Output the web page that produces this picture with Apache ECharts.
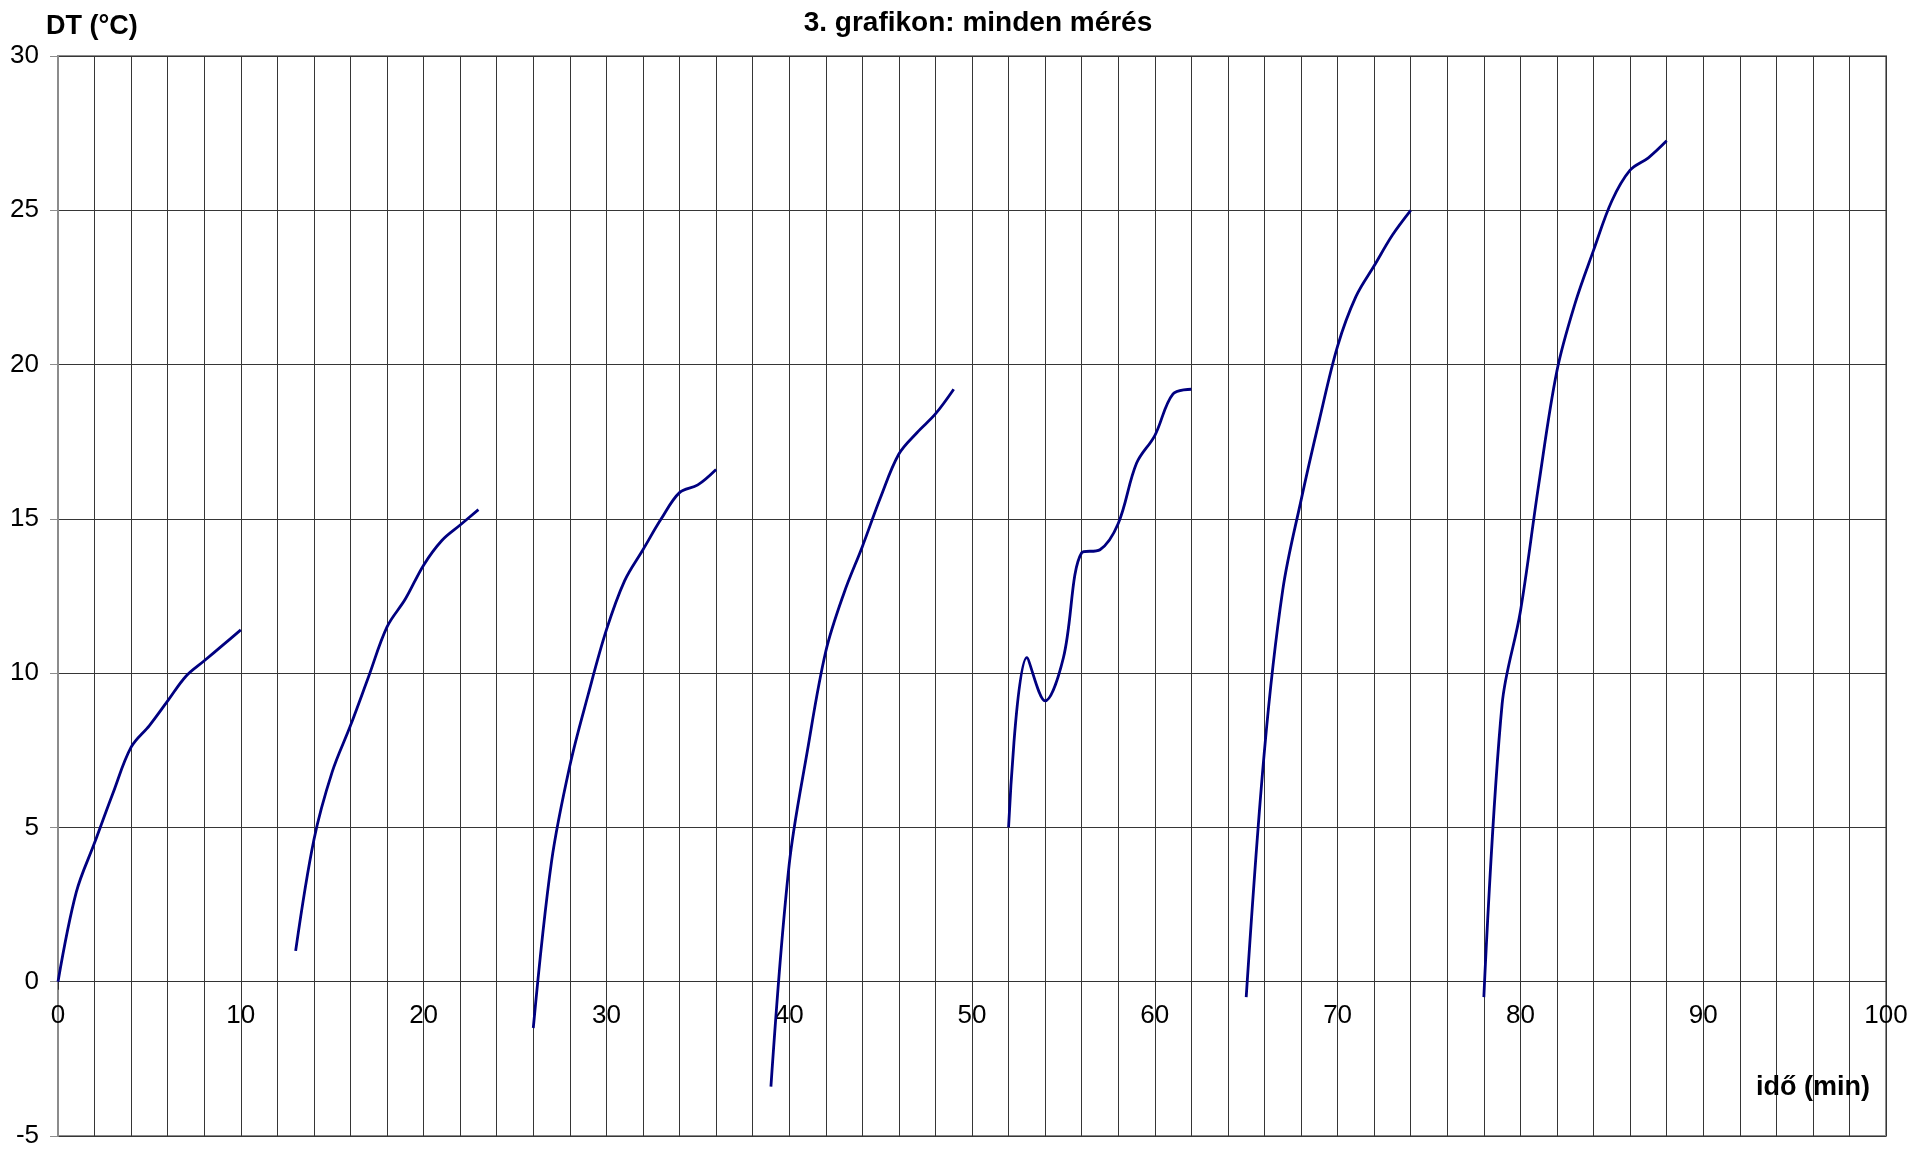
<!DOCTYPE html>
<html>
<head>
<meta charset="utf-8">
<title>3. grafikon: minden mérés</title>
<script src="https://cdn.jsdelivr.net/npm/echarts@6/dist/echarts.min.js"></script>
<style>
  html, body { margin: 0; padding: 0; background: #fff; }
  #chart { width: 1932px; height: 1150px; }
</style>
</head>
<body>
<div id="chart"></div>
<script>
// Measurement runs: time (min) and temperature rise DT (°C)
const run1Time = [0, 1, 2, 3, 4, 5, 6, 7, 8, 9, 10];
const run1DT   = [0, 2.9, 4.5, 6.1, 7.6, 8.3, 9.1, 9.9, 10.4, 10.9, 11.4];

const run2Time = [13, 14, 15, 16, 17, 18, 19, 20, 21, 22, 23];
const run2DT   = [1.0, 4.6, 6.8, 8.3, 9.9, 11.5, 12.4, 13.5, 14.3, 14.8, 15.3];

const run3Time = [26, 27, 28, 29, 30, 31, 32, 33, 34, 35, 36];
const run3DT   = [-1.5, 3.9, 7.0, 9.3, 11.4, 13.0, 14.0, 15.0, 15.85, 16.1, 16.6];

const run4Time = [39, 40, 41, 42, 43, 44, 45, 46, 47, 48, 49];
const run4DT   = [-3.4, 3.8, 7.5, 10.7, 12.6, 14.1, 15.7, 17.1, 17.8, 18.4, 19.2];

const run5Time = [52, 53, 54, 55, 56, 57, 58, 59, 60, 61, 62];
const run5DT   = [5.0, 10.5, 9.1, 10.5, 13.9, 14.0, 14.85, 16.8, 17.7, 19.05, 19.2];

const run6Time = [65, 66, 67, 68, 69, 70, 71, 72, 73, 74];
const run6DT   = [-0.5, 7.5, 12.7, 15.6, 18.2, 20.6, 22.2, 23.2, 24.2, 25.0];

const run7Time = [78, 79, 80, 81, 82, 83, 84, 85, 86, 87, 88];
const run7DT   = [-0.5, 9.0, 12.0, 16.1, 19.8, 22.0, 23.7, 25.3, 26.3, 26.7, 27.25];

// Axis ranges and tick steps
const xMin = 0, xMax = 100, xStep = 10;
const yMin = -5, yMax = 30, yStep = 5;

const chartTitle = '3. grafikon: minden mérés';
const yName = 'DT (°C)';
const xName = 'idő (min)';

const runs = [
  [run1Time, run1DT], [run2Time, run2DT], [run3Time, run3DT], [run4Time, run4DT],
  [run5Time, run5DT], [run6Time, run6DT], [run7Time, run7DT]
];

const FONT = '"Liberation Sans", Arial, sans-serif';
const GRID_COLOR = '#363636';
const FRAME_COLOR = '#8c8c8c';

// Plot box (px) — the time axis is drawn across the DT = 0 level
const W = 1932, H = 1150;
const gridBox = { left: 58, right: 46, top: 56, bottom: 14 };
const plotH = H - gridBox.top - gridBox.bottom;
const zeroOffset = -plotH * (0 - yMin) / (yMax - yMin);

const chart = echarts.init(document.getElementById('chart'), null, { renderer: 'canvas' });

chart.setOption({
  backgroundColor: '#ffffff',
  animation: false,
  title: [
    {
      text: chartTitle, left: 973, top: 4, textAlign: 'center',
      textStyle: { fontFamily: FONT, fontWeight: 'bold', fontSize: 28, color: '#000' }
    },
    {
      text: yName, left: 41, top: 8,
      textStyle: { fontFamily: FONT, fontWeight: 'bold', fontSize: 27, color: '#000' }
    },
    {
      text: xName, left: 1751, top: 1069,
      textStyle: { fontFamily: FONT, fontWeight: 'bold', fontSize: 27, color: '#000' }
    }
  ],
  grid: {
    left: gridBox.left, right: gridBox.right, top: gridBox.top, bottom: gridBox.bottom,
    containLabel: false, outerBoundsMode: 'none',
    show: true, borderColor: FRAME_COLOR, borderWidth: 2, backgroundColor: 'transparent'
  },
  xAxis: {
    type: 'value', min: xMin, max: xMax, interval: xStep,
    position: 'bottom', offset: zeroOffset,
    axisLine: { onZero: false, lineStyle: { color: '#333', width: 1 } },
    axisTick: { show: true, length: 8, inside: false, lineStyle: { color: '#333' } },
    minorTick: { show: false, splitNumber: 5 },
    axisLabel: { fontFamily: FONT, fontSize: 26, color: '#000', margin: 21 },
    splitLine: { show: true, lineStyle: { color: GRID_COLOR, width: 1 } },
    minorSplitLine: { show: true, lineStyle: { color: GRID_COLOR, width: 1 } }
  },
  yAxis: {
    type: 'value', min: yMin, max: yMax, interval: yStep,
    axisLine: { show: true, onZero: false, lineStyle: { color: FRAME_COLOR, width: 2 } },
    axisTick: { show: true, length: 8, inside: false, lineStyle: { color: FRAME_COLOR } },
    axisLabel: { fontFamily: FONT, fontSize: 26, color: '#000', margin: 19 },
    splitLine: { show: true, lineStyle: { color: GRID_COLOR, width: 1 } }
  },
  series: runs.map(([t, v], i) => ({
    name: 'mérés ' + (i + 1),
    type: 'line',
    data: t.map((x, k) => [x, v[k]]),
    smooth: 0.35,
    showSymbol: false,
    lineStyle: { color: '#000080', width: 2.8 },
    z: 5
  }))
});
</script>
</body>
</html>
